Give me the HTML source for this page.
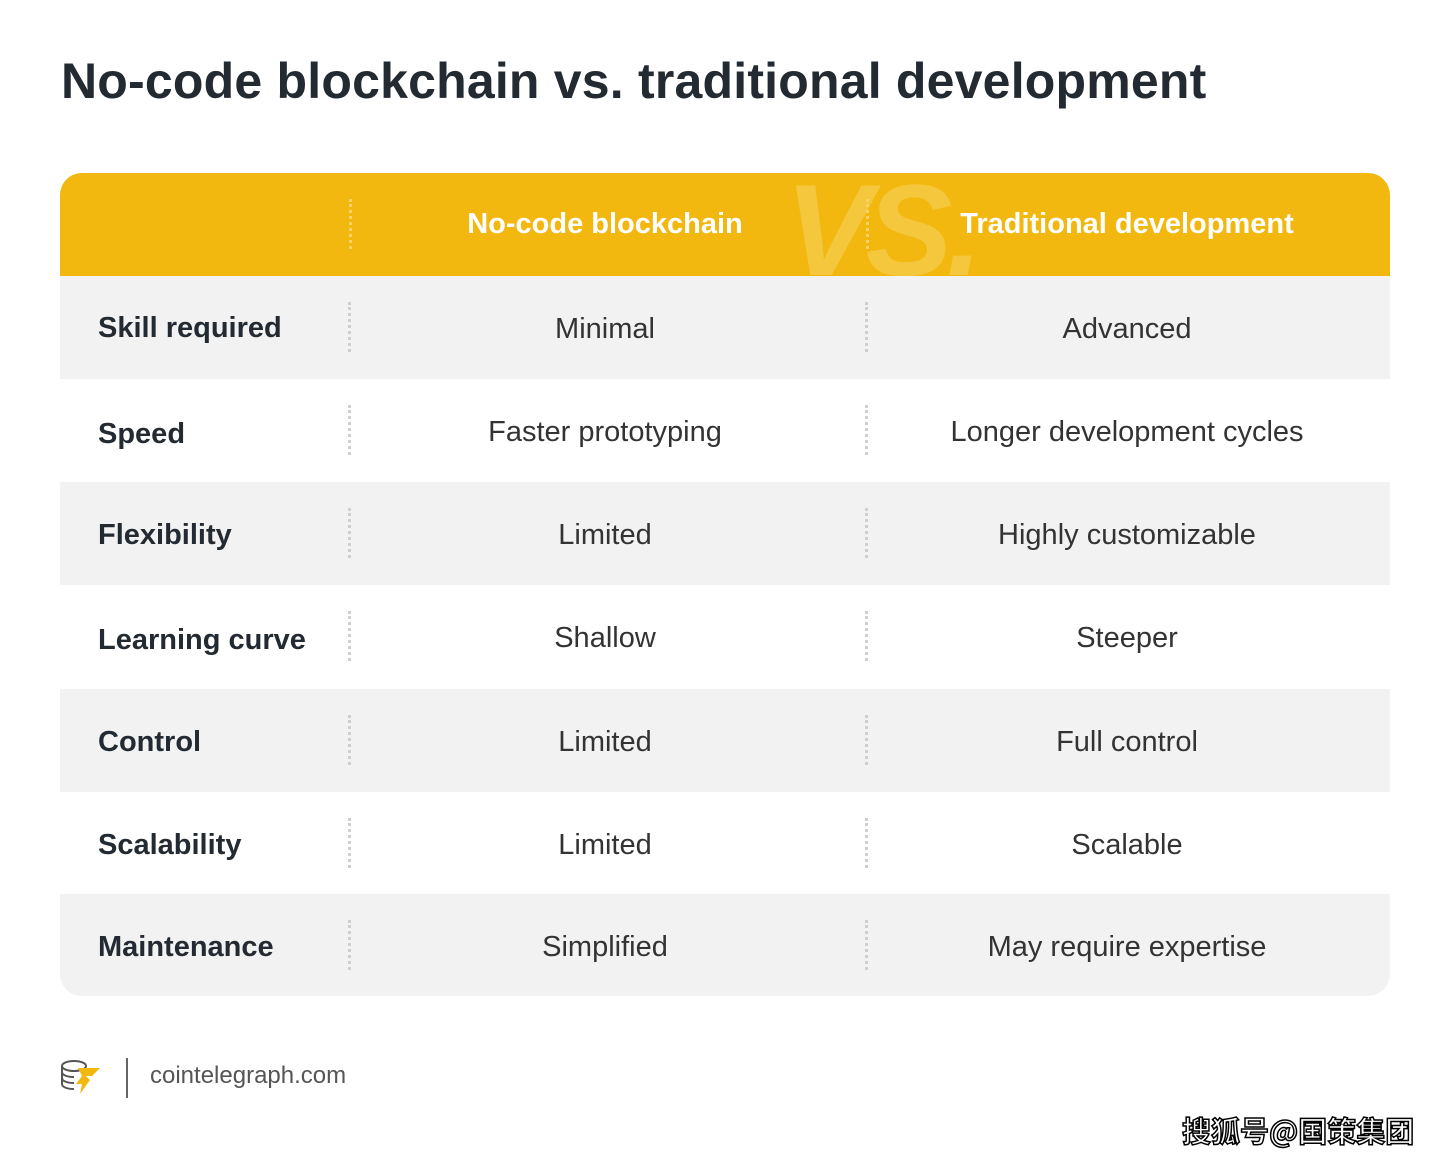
<!DOCTYPE html>
<html><head><meta charset="utf-8"><style>
body{margin:0;width:1450px;height:1158px;background:#fff;position:relative;font-family:"Liberation Sans",sans-serif;overflow:hidden}
.t{position:absolute;left:61px;top:52px;font-size:50px;font-weight:bold;color:#232a31;letter-spacing:0.2px}
.tbl{position:absolute;left:60px;top:173px;width:1330px;height:823px;border-radius:22px;overflow:hidden}
.hd{position:absolute;left:0;top:0;width:1330px;height:103px;background:#f2b80f}
.row{position:absolute;left:0;width:1330px;height:103px}
.g{background:#f2f2f2}
.lab{position:absolute;left:38px;font-size:29px;font-weight:bold;color:#232a31}
.c{position:absolute;font-size:29px;color:#333;text-align:center;width:500px}
.hc{position:absolute;font-size:29px;color:#fff;font-weight:bold;text-align:center;width:500px;top:35px}
.dv{position:absolute;top:26px;height:50px;border-left:3px dotted #cfcfcf}
.hd .dv{border-left-color:#f7d36a}
.vs{position:absolute;left:725px;top:-18px;font-size:130px;font-weight:bold;font-style:italic;color:#f4c73d;letter-spacing:-6px}
</style></head><body>
<div class="t">No-code blockchain vs. traditional development</div>
<div class="tbl">
<div class="hd"><div class="vs">VS.</div><div class="dv" style="left:289px"></div><div class="dv" style="left:806px"></div>
<div class="hc" style="left:295px">No-code blockchain</div><div class="hc" style="left:817px">Traditional development</div></div>
<div class="row g" style="top:103px"><div class="lab" style="top:36px">Skill required</div><div class="dv" style="left:288px"></div><div class="dv" style="left:805px"></div><div class="c" style="left:295px;top:37px">Minimal</div><div class="c" style="left:817px;top:37px">Advanced</div></div>
<div class="row" style="top:206px"><div class="lab" style="top:39px">Speed</div><div class="dv" style="left:288px"></div><div class="dv" style="left:805px"></div><div class="c" style="left:295px;top:37px">Faster prototyping</div><div class="c" style="left:817px;top:37px">Longer development cycles</div></div>
<div class="row g" style="top:309px"><div class="lab" style="top:37px">Flexibility</div><div class="dv" style="left:288px"></div><div class="dv" style="left:805px"></div><div class="c" style="left:295px;top:37px">Limited</div><div class="c" style="left:817px;top:37px">Highly customizable</div></div>
<div class="row" style="top:412px"><div class="lab" style="top:39px">Learning curve</div><div class="dv" style="left:288px"></div><div class="dv" style="left:805px"></div><div class="c" style="left:295px;top:37px">Shallow</div><div class="c" style="left:817px;top:37px">Steeper</div></div>
<div class="row g" style="top:516px"><div class="lab" style="top:37px">Control</div><div class="dv" style="left:288px"></div><div class="dv" style="left:805px"></div><div class="c" style="left:295px;top:37px">Limited</div><div class="c" style="left:817px;top:37px">Full control</div></div>
<div class="row" style="top:619px"><div class="lab" style="top:37px">Scalability</div><div class="dv" style="left:288px"></div><div class="dv" style="left:805px"></div><div class="c" style="left:295px;top:37px">Limited</div><div class="c" style="left:817px;top:37px">Scalable</div></div>
<div class="row g" style="top:721px;height:102px"><div class="lab" style="top:37px">Maintenance</div><div class="dv" style="left:288px"></div><div class="dv" style="left:805px"></div><div class="c" style="left:295px;top:37px">Simplified</div><div class="c" style="left:817px;top:37px">May require expertise</div></div>
</div>
<svg style="position:absolute;left:58px;top:1056px" width="46" height="42"><g fill="none" stroke="#555" stroke-width="2"><ellipse cx="16" cy="10" rx="12" ry="5"/><path d="M4 10v6c0 3 5 5 12 5M4 16v6c0 3 5 5 12 5M4 22v6c0 3 5 5 12 5"/></g><path d="M20 12h22l-8 8h-6l4 4-10 14 2-10h-6l6-8z" fill="#f2b80f"/></svg>
<div style="position:absolute;left:126px;top:1058px;height:40px;border-left:2px solid #666"></div>
<div style="position:absolute;left:150px;top:1062px;font-size:24px;color:#555">cointelegraph.com</div>
<div style="position:absolute;left:1182px;top:1109px;font-size:29px;color:#fff;font-weight:bold;font-family:'Noto Sans CJK SC',sans-serif;-webkit-text-stroke:1.5px #000">搜狐号@国策集团</div>
</body></html>
